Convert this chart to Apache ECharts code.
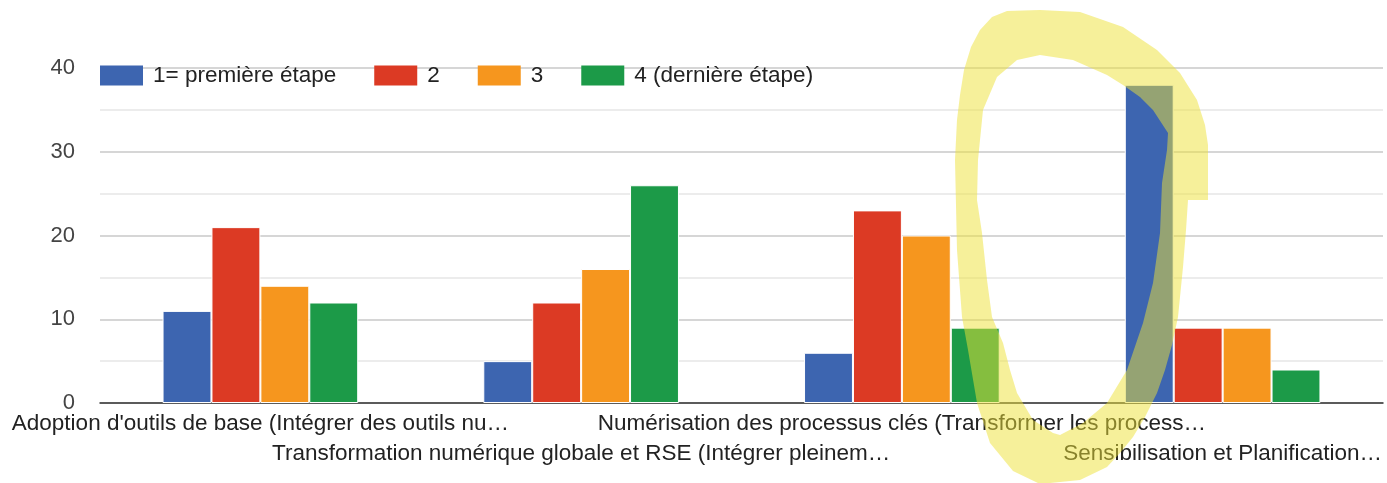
<!DOCTYPE html>
<html>
<head>
<meta charset="utf-8">
<script src="https://cdn.jsdelivr.net/npm/echarts@6/dist/echarts.min.js"></script>
<style>
  html, body { margin: 0; padding: 0; background: #fff; }
  #chart { width: 1387px; height: 483px; }
</style>
</head>
<body>
<div id="chart"></div>
<script>
// Stages of digital transformation (labels shortened with an ellipsis)
const categories = [
  "Adoption d'outils de base (Intégrer des outils nu…",
  "Transformation numérique globale et RSE (Intégrer pleinem…",
  "Numérisation des processus clés (Transformer les process…",
  "Sensibilisation et Planification…"
];

const seriesNames = ["1= première étape", "2", "3", "4 (dernière étape)"];
const seriesColors = ["#3d65b0", "#dc3a24", "#f6961e", "#1c9a48"];

// Number of answers per ranking, one array per rank
const rank1 = [11, 5, 6, 38];
const rank2 = [21, 12, 23, 9];
const rank3 = [14, 16, 20, 9];
const rank4 = [12, 26, 9, 4];
const seriesValues = [rank1, rank2, rank3, rank4];

const yTicks = [0, 10, 20, 30, 40];

// Hand-drawn highlighter loop around the last group (pixel outline,
// outer edge clockwise then the inner hole counter-clockwise)
const highlightOuter = [
  [1040,10],[1080,12],[1123,27],[1157,50],[1180,73],[1197,100],[1205,125],[1208,145],
  [1208,200],[1188,200],[1186,230],[1183,267],[1178,317],[1172,345],[1165,370],
  [1157,393],[1145,417],[1133,437],[1120,453],[1107,467],[1080,480],[1040,484],
  [1013,471],[990,443],[977,403],[968,350],[962,317],[957,250],[955,160],[957,120],
  [960,95],[964,70],[971,47],[980,30],[992,17],[1007,11],[1040,10]
];
const highlightInner = [
  [1040,55],[1017,60],[997,77],[983,110],[978,160],[977,200],[982,233],[987,280],
  [992,317],[1003,343],[1010,370],[1017,393],[1033,420],[1053,433],[1060,435],
  [1083,423],[1107,403],[1127,370],[1143,323],[1153,283],[1160,233],[1162,183],
  [1167,150],[1168,133],[1153,110],[1140,97],[1123,85],[1107,75],[1073,60],[1040,55]
];

const chart = echarts.init(document.getElementById('chart'), null, { renderer: 'canvas' });

const fontFamily = "'Liberation Sans', Arial, sans-serif";

chart.setOption({
  backgroundColor: '#ffffff',
  animation: false,
  color: seriesColors,
  textStyle: { fontFamily: fontFamily },
  grid: { left: 100, right: 4, top: 68, bottom: 80, containLabel: false },
  legend: {
    left: 100,
    top: 64,
    icon: 'rect',
    itemWidth: 43,
    itemHeight: 20,
    itemGap: 38,
    padding: 0,
    itemStyle: { borderWidth: 0 },
    textStyle: { fontSize: 22.5, color: '#222', fontFamily: fontFamily, lineHeight: 20, padding: [0, 0, 0, 5] },
    data: seriesNames
  },
  xAxis: {
    type: 'category',
    data: categories,
    axisLine: { show: true, lineStyle: { color: '#333', width: 1.5 } },
    axisTick: { show: false },
    axisLabel: {
      interval: 0,
      hideOverlap: false,
      margin: 6,
      fontSize: 22.5,
      lineHeight: 30,
      color: '#222',
      fontFamily: fontFamily,
      formatter: function (v, i) { return i % 2 === 1 ? '\n' + v : v; }
    },
    splitLine: { show: false }
  },
  yAxis: {
    type: 'value',
    min: yTicks[0],
    max: yTicks[yTicks.length - 1],
    interval: 10,
    axisLine: { show: false },
    axisTick: { show: false },
    axisLabel: { fontSize: 22, color: '#444', margin: 25, fontFamily: fontFamily },
    splitLine: { show: true, lineStyle: { color: '#c8c8c8', width: 1.5 } },
    minorTick: { show: false, splitNumber: 2 },
    minorSplitLine: { show: true, lineStyle: { color: '#e6e6e6', width: 1.5 } }
  },
  series: seriesNames.map(function (name, k) {
    return {
      name: name,
      type: 'bar',
      data: seriesValues[k],
      barGap: '0%',
      barCategoryGap: '39%',
      itemStyle: { color: seriesColors[k], borderColor: '#ffffff', borderWidth: 1 },
      emphasis: { disabled: true }
    };
  }),
  graphic: [{
    type: 'polygon',
    z: 100,
    silent: true,
    shape: { points: highlightOuter.concat(highlightInner), smooth: 0 },
    style: { fill: 'rgba(237,225,53,0.5)', stroke: null }
  }]
});
</script>
</body>
</html>
